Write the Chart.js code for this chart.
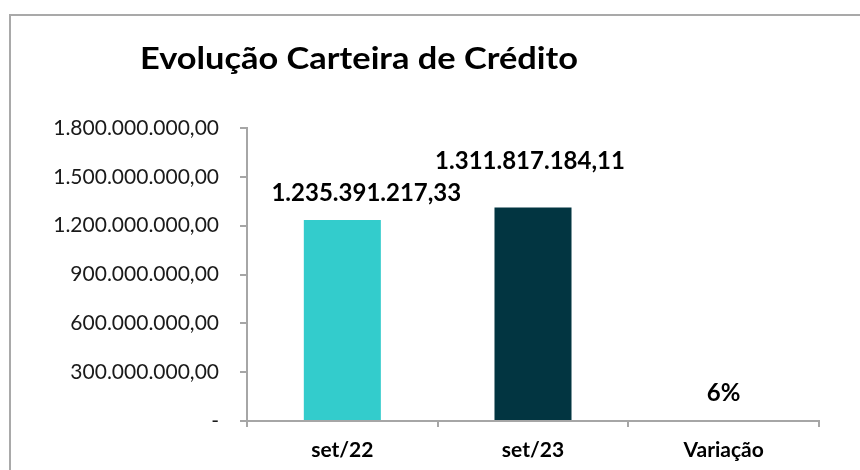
<!DOCTYPE html>
<html>
<head>
<meta charset="utf-8">
<script src="https://cdn.jsdelivr.net/npm/chart.js@4.4.0/dist/chart.umd.min.js"></script>
<style>
    html, body { margin: 0; padding: 0; background: #ffffff; }
    #moldura {
        position: absolute; left: 0; top: 0; width: 860px; height: 470px; overflow: hidden;
    }
    #borda {
        position: absolute; left: 9px; top: 14px; width: 900px; height: 500px;
        border-top: 2px solid #a9a9a9; border-left: 2px solid #a9a9a9;
    }
    #grafico { position: absolute; left: 0; top: 0; }
</style>
</head>
<body>
<div id="moldura">
    <div id="borda"></div>
    <canvas id="grafico" width="860" height="470"></canvas>
</div>
<script>
// Dados do gráfico
const titulo = 'Evolução Carteira de Crédito';
const categorias = ['set/22', 'set/23', 'Variação'];
const valores = [1235391217.33, 1311817184.11, 0.06];
const cores = ['#33CCCC', '#023541', '#a6a6a6'];
const eixoY = [0, 300000000, 600000000, 900000000, 1200000000, 1500000000, 1800000000];

// deslocamento dos rótulos em relação ao topo da barra (como no Excel)
const deslocRotulos = [[24, -27], [-3, -46], [0, -28]];

const fonte = 'Lato, "Open Sans", sans-serif';

// formata no padrão pt-BR: 1.235.391.217,33
function formatar(v) {
    if (v == 0) return '-';
    let partes = v.toFixed(2).split('.');
    let inteiro = partes[0].replace(/\B(?=(\d{3})+(?!\d))/g, '.');
    return inteiro + ',' + partes[1];
}

function rotulo(v, i) {
    if (i === 2) return Math.round(v * 100) + '%';
    return formatar(v);
}

const pluginTitulo = {
    id: 'tituloManual',
    afterDraw(chart) {
        const ctx = chart.ctx;
        ctx.save();
        ctx.fillStyle = '#000000';
        ctx.font = 'bold 31px ' + fonte;
        ctx.textAlign = 'left';
        ctx.textBaseline = 'alphabetic';
        // largura do título no original ~438px
        const larg = ctx.measureText(titulo).width;
        const sx = 438 / larg;
        ctx.translate(140, 69);
        ctx.scale(sx, 1);
        ctx.fillText(titulo, 0, 0);
        ctx.restore();
    }
};

const pluginRotulos = {
    id: 'rotulosBarras',
    afterDatasetsDraw(chart) {
        const ctx = chart.ctx;
        const meta = chart.getDatasetMeta(0);
        ctx.save();
        ctx.fillStyle = '#000000';
        ctx.font = 'bold 24px ' + fonte;
        ctx.textAlign = 'center';
        ctx.textBaseline = 'middle';
        meta.data.forEach(function (barra, i) {
            const d = deslocRotulos[i];
            ctx.fillText(rotulo(valores[i], i), barra.x + d[0], barra.y + d[1]);
        });
        ctx.restore();
    }
};

const config = {
    type: 'bar',
    data: {
        labels: categorias,
        datasets: [{
            data: valores,
            backgroundColor: cores,
            borderWidth: 0,
            categoryPercentage: 1,
            barPercentage: 0.404
        }]
    },
    options: {
        responsive: false,
        animation: false,
        layout: { padding: { top: 128, right: 41, bottom: 0, left: 0 } },
        plugins: {
            legend: { display: false },
            tooltip: { enabled: false },
            title: { display: false }
        },
        scales: {
            x: {
                offset: true,
                grid: { offset: true, drawOnChartArea: false, drawTicks: true, tickLength: 6, color: '#a6a6a6', lineWidth: 2 },
                border: { display: true, color: '#a6a6a6', width: 2 },
                ticks: { color: '#000000', font: { family: fonte, size: 21, weight: 'bold' }, padding: 11 },
                afterFit(scale) { scale.height = 49; }
            },
            y: {
                min: 0,
                max: 1800000000,
                afterBuildTicks(scale) { scale.ticks = eixoY.map(v => ({ value: v })); },
                grid: { drawOnChartArea: false, drawTicks: true, tickLength: 7, color: '#a6a6a6', lineWidth: 2 },
                border: { display: true, color: '#a6a6a6', width: 2 },
                ticks: {
                    color: '#1a1a1a',
                    font: { family: fonte, size: 21 },
                    padding: 21,
                    callback: function (v) { return formatar(v); }
                },
                afterFit(scale) { scale.width = 247; }
            }
        }
    },
    plugins: [pluginTitulo, pluginRotulos]
};

const grafico = new Chart(document.getElementById('grafico'), config);
</script>
</body>
</html>
